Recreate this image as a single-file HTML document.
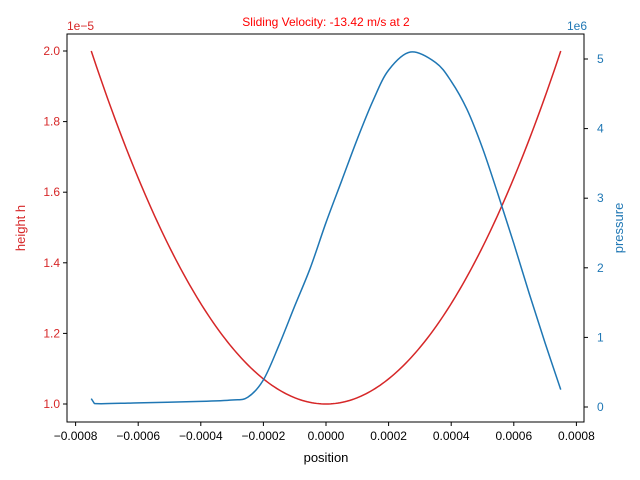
<!DOCTYPE html>
<html><head><meta charset="utf-8"><style>
body{margin:0;background:#fff;}
svg{display:block;font-family:"Liberation Sans","DejaVu Sans",sans-serif;}
</style></head><body>
<svg id="chart" width="640" height="480"></svg>
<script>
const xTicks=[-0.0008,-0.0006,-0.0004,-0.0002,0,0.0002,0.0004,0.0006,0.0008];
const xTickLabels=["−0.0008","−0.0006","−0.0004","−0.0002","0.0000","0.0002","0.0004","0.0006","0.0008"];
const hTicks=[1.0,1.2,1.4,1.6,1.8,2.0];
const pTicks=[0,1,2,3,4,5];
const hMin=1.0, hMax=2.0, xEnd=0.00075;
const pPos=[-0.00075,-0.00074,-0.0006,-0.0004,-0.0003,-0.00025,-0.0002,-0.00015,-0.0001,-0.00005,0,0.00005,0.0001,0.00015,0.0002,0.00027,0.00035,0.0004,0.00045,0.0005,0.00055,0.0006,0.00065,0.0007,0.00075];
const pVal=[0.12,0.05,0.06,0.08,0.1,0.14,0.39,0.89,1.45,2.0,2.65,3.25,3.85,4.4,4.84,5.1,4.95,4.68,4.28,3.72,3.05,2.35,1.62,0.92,0.25];
const NS="http://www.w3.org/2000/svg";
const svg=document.getElementById('chart');
const L=67,R=584,T=34,B=422;
const sx=v=>326+v/0.0002*62.6;
const sh=v=>404-(v-1.0)*353;
const sp=v=>407-v*69.6;
function add(tag,attrs,name,text){const e=document.createElementNS(NS,tag);for(const k in attrs)e.setAttribute(k,attrs[k]);


if(text!==undefined)e.textContent=text;svg.appendChild(e);return e;}
add('rect',{x:L,y:T,width:R-L,height:B-T,fill:'none',stroke:'#000','stroke-width':1},'plot-frame');
xTicks.forEach((t,i)=>{const x=sx(t);add('line',{x1:x,x2:x,y1:B,y2:B+4,stroke:'#000'},'x-tick');
add('text',{x:x,y:B+18,'font-size':12,'text-anchor':'middle'},'x-tick-label',xTickLabels[i]);});
hTicks.forEach(t=>{const y=sh(t);add('line',{x1:L-4,x2:L,y1:y,y2:y,stroke:'#000'},'left-tick');
add('text',{x:L-7,y:y+4,'font-size':12,'text-anchor':'end',fill:'#d62728'},'left-tick-label',t.toFixed(1));});
pTicks.forEach(t=>{const y=sp(t);add('line',{x1:R,x2:R+4,y1:y,y2:y,stroke:'#000'},'right-tick');
add('text',{x:R+13,y:y+4,'font-size':12,fill:'#1f77b4'},'right-tick-label',String(t));});
add('text',{x:67,y:30,'font-size':12,fill:'#d62728'},'left-offset-label','1e−5');
add('text',{x:587,y:30,'font-size':12,fill:'#1f77b4','text-anchor':'end'},'right-offset-label','1e6');
add('text',{x:326,y:26,'font-size':12,fill:'red','text-anchor':'middle'},'chart-title','Sliding Velocity: -13.42 m/s at 2');
add('text',{x:326,y:462,'font-size':13,'text-anchor':'middle'},'x-axis-title','position');
add('text',{x:0,y:0,'font-size':13,fill:'#d62728','text-anchor':'middle',transform:'translate(25,228) rotate(-90)'},'left-axis-title','height h');
add('text',{x:0,y:0,'font-size':13,fill:'#1f77b4','text-anchor':'middle',transform:'translate(623,228) rotate(-90)'},'right-axis-title','pressure');
let d='';for(let i=0;i<=200;i++){const x=-xEnd+2*xEnd*i/200;const h=hMin+(hMax-hMin)*(x/xEnd)*(x/xEnd);d+=(i?'L':'M')+sx(x).toFixed(2)+','+sh(h).toFixed(2);}
add('path',{d:d,fill:'none',stroke:'#d62728','stroke-width':1.5},'height-line');
let pts=pPos.map((x,i)=>[sx(x),sp(pVal[i])]);
let d2='M'+pts[0][0]+','+pts[0][1]+'L'+pts[1][0]+','+pts[1][1];
for(let i=1;i<pts.length-1;i++){const p0=pts[i-1],p1=pts[i],p2=pts[i+1],p3=pts[Math.min(i+2,pts.length-1)];
const c1=[p1[0]+(p2[0]-p0[0])/6,p1[1]+(p2[1]-p0[1])/6],c2=[p2[0]-(p3[0]-p1[0])/6,p2[1]-(p3[1]-p1[1])/6];
d2+='C'+c1[0].toFixed(2)+','+c1[1].toFixed(2)+' '+c2[0].toFixed(2)+','+c2[1].toFixed(2)+' '+p2[0].toFixed(2)+','+p2[1].toFixed(2);}
add('path',{d:d2,fill:'none',stroke:'#1f77b4','stroke-width':1.5,'stroke-linejoin':'round'},'pressure-line');
</script>
</body></html>
